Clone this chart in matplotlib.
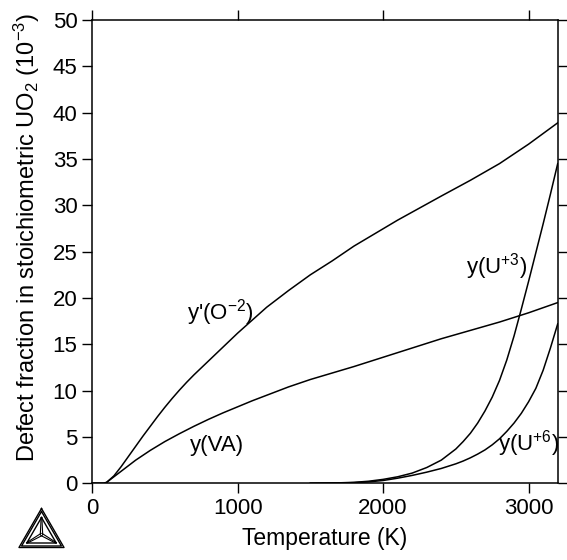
import matplotlib
matplotlib.use("Agg")
import matplotlib.pyplot as plt
import numpy as np

plt.rcParams["font.family"] = ["Liberation Sans", "DejaVu Sans"]
plt.rcParams["mathtext.fontset"] = "custom"
plt.rcParams["mathtext.rm"] = "Liberation Sans"
plt.rcParams["mathtext.it"] = "Liberation Sans"
plt.rcParams["mathtext.bf"] = "Liberation Sans"

# Site fractions of defects in stoichiometric UO2 (units of 1e-3)
T_O = [0, 80, 100, 150, 200, 250, 300, 350, 400, 450, 500, 550, 600, 650,
       700, 750, 800, 900, 1000, 1100, 1200, 1350, 1500, 1650, 1800, 1950,
       2100, 2250, 2400, 2600, 2800, 3000, 3200]
y_O = [0, 0, 0.1, 0.8, 1.8, 2.9, 4.0, 5.1, 6.15, 7.2, 8.2, 9.15, 10.05, 10.9,
       11.7, 12.45, 13.2, 14.7, 16.2, 17.6, 19.0, 20.8, 22.5, 24.0, 25.6,
       27.0, 28.4, 29.7, 31.0, 32.7, 34.5, 36.6, 38.9]

T_VA = [0, 80, 100, 150, 200, 250, 300, 400, 500, 600, 700, 800, 900, 1000,
        1100, 1200, 1350, 1500, 1650, 1800, 2000, 2200, 2400, 2600, 2800,
        3000, 3200]
y_VA = [0, 0, 0.1, 0.7, 1.3, 1.9, 2.5, 3.55, 4.5, 5.35, 6.15, 6.9, 7.6, 8.25,
        8.9, 9.5, 10.4, 11.2, 11.9, 12.6, 13.6, 14.6, 15.6, 16.5, 17.4,
        18.4, 19.5]

T_U3 = [1500, 1700, 1800, 1900, 2000, 2100, 2200, 2300, 2400, 2500, 2550,
        2600, 2650, 2700, 2750, 2800, 2850, 2900, 2950, 3000, 3050, 3100,
        3150, 3200]
y_U3 = [0, 0.05, 0.1, 0.22, 0.42, 0.7, 1.1, 1.7, 2.5, 3.7, 4.5, 5.4, 6.5,
        7.8, 9.3, 11.1, 13.3, 15.9, 18.8, 21.8, 24.9, 28.0, 31.2, 34.5]

T_U6 = [1500, 1700, 1800, 1900, 2000, 2100, 2200, 2300, 2400, 2450, 2500,
        2550, 2600, 2650, 2700, 2750, 2800, 2850, 2900, 2950, 3000, 3050,
        3100, 3150, 3200]
y_U6 = [0, 0.03, 0.07, 0.15, 0.3, 0.55, 0.85, 1.2, 1.6, 1.85, 2.1, 2.4, 2.75,
        3.15, 3.6, 4.15, 4.8, 5.6, 6.5, 7.55, 8.8, 10.25, 12.2, 14.6, 17.2]

x_ticks = [0, 1000, 2000, 3000]
y_ticks = [0, 5, 10, 15, 20, 25, 30, 35, 40, 45, 50]

fig = plt.figure(figsize=(5.67, 5.60), dpi=100)
ax = fig.add_axes([0.1624, 0.1370, 0.8212, 0.8273])

lw = 1.1
ax.plot(T_O, y_O, color="black", lw=lw)
ax.plot(T_VA, y_VA, color="black", lw=lw)
ax.plot(T_U3, y_U3, color="black", lw=lw)
ax.plot(T_U6, y_U6, color="black", lw=lw)

ax.set_xlim(0, 3200)
ax.set_ylim(0, 50)
ax.set_xticks(x_ticks)
ax.set_yticks(y_ticks)
ax.tick_params(direction="out", length=7.5, width=1.0, labelsize=16,
               top=True, right=True, labeltop=False, labelright=False,
               pad=3)
for s in ax.spines.values():
    s.set_linewidth(1.1)

ax.set_xlabel("Temperature (K)", fontsize=16.5, labelpad=6)
ax.set_ylabel("Defect fraction in stoichiometric UO$_2$ (10$^{-3}$)",
              fontsize=17)
ax.yaxis.set_label_coords(-0.108, 0.53)

fs = 16
ax.text(878, 18.4, "y'(O$^{-2}$)", fontsize=fs, ha="center", va="center")
ax.text(860, 4.1, "y(VA)", fontsize=fs, ha="center", va="center")
ax.text(2781, 23.4, "y(U$^{+3}$)", fontsize=fs, ha="center", va="center")
ax.text(3000, 4.3, "y(U$^{+6}$)", fontsize=fs, ha="center", va="center")

# Triangle logo in the lower left corner
lax = fig.add_axes([14 / 567, 1 - 552 / 560, 56 / 567, 48 / 560])
lax.set_xlim(0, 56)
lax.set_ylim(0, 48)
lax.axis("off")

def tri(cx, cy, r):
    ang = np.radians([90, 210, 330, 90])
    return cx + r * np.cos(ang), cy + r * np.sin(ang)

cx, cy = 27.5, 17.5
for r in (26.0, 23.0, 17.0):
    xs, ys = tri(cx, cy, r)
    lax.plot(xs, ys, color="black", lw=1.0)
for a in (90, 210, 330):
    ra = np.radians(a)
    for off in (-1.2, 1.2):
        px = -np.sin(ra) * off
        py = np.cos(ra) * off
        lax.plot([cx + px, cx + 17 * np.cos(ra) + px * 0.3],
                 [cy + py, cy + 17 * np.sin(ra) + py * 0.3],
                 color="black", lw=0.8)

fig.savefig("out.png", dpi=100)
